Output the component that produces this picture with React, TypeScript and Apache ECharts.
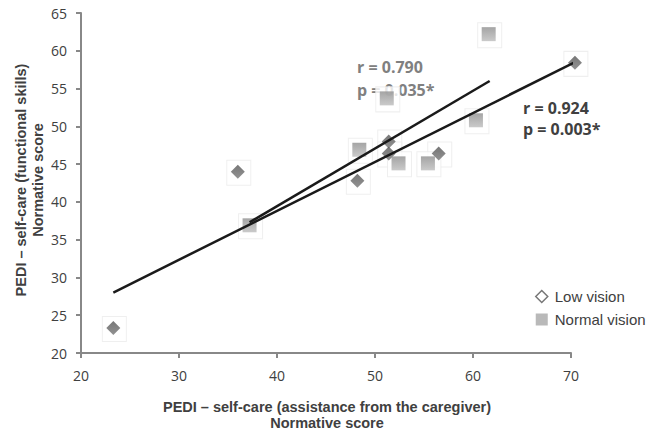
import React, { useEffect, useRef } from "react";
import * as echarts from "echarts";

// Data
const lowVisionX = [23.3, 36.0, 48.2, 51.4, 51.4, 56.5, 70.4];
const lowVisionY = [23.3, 44.0, 42.8, 48.0, 46.4, 46.4, 58.4];
const normalVisionX = [37.2, 48.4, 51.2, 52.4, 55.4, 60.3, 61.6];
const normalVisionY = [36.9, 46.9, 53.7, 45.1, 45.1, 50.8, 62.2];
const lowTrendX = [23.3, 70.4];
const lowTrendY = [28.0, 58.5];
const normalTrendX = [37.2, 61.7];
const normalTrendY = [37.3, 56.0];
const seriesNames = ["Low vision", "Normal vision"];
const statsLow = ["r = 0.924", "p = 0.003*"];
const statsNormal = ["r = 0.790", "p = 0.035*"];
const xTitle = ["PEDI – self-care (assistance from the caregiver)", "Normative score"];
const yTitle = ["PEDI – self-care (functional skills)", "Normative score"];

const pairs = (xs: number[], ys: number[]) => xs.map((x, i) => [x, ys[i]]);

export default function App() {
  const ref = useRef<HTMLDivElement>(null);
  useEffect(() => {
    document.body.style.margin = "0";
    const chart = echarts.init(ref.current!, null, { renderer: "svg" });
    const tickFont = { fontFamily: "Open Sans", fontSize: 14, color: "#404040" };
    const titleStyle = {
      fontFamily: "Liberation Sans, Arial, sans-serif",
      fontSize: 14.5,
      fontWeight: "bold" as const,
      fill: "#404040",
    };
    const statStyle = {
      fontFamily: "Open Sans",
      fontSize: 16,
      fontWeight: "bold" as const,
    };
    const diamondFill = new echarts.graphic.LinearGradient(0, 0, 0, 1, [
      { offset: 0, color: "#555555" },
      { offset: 1, color: "#777777" },
    ]);
    const squareFill = new echarts.graphic.LinearGradient(0, 0, 0, 1, [
      { offset: 0, color: "#8e8e8e" },
      { offset: 1, color: "#bdbdbd" },
    ]);
    const frame = {
      type: "scatter" as const,
      symbol: "rect",
      symbolSize: [24, 25],
      symbolOffset: [1, 1],
      silent: true,
      clip: false,
      z: 2,
      itemStyle: { color: "#ffffff", borderColor: "#ebebeb", borderWidth: 1 },
    };
    chart.setOption({
      animation: false,
      grid: { left: 81, right: 80, top: 13, bottom: 79 },
      xAxis: {
        type: "value",
        min: 20,
        max: 70,
        interval: 10,
        axisLine: { lineStyle: { color: "#888888", width: 2 } },
        axisTick: { show: true, length: 5, lineStyle: { color: "#888888", width: 2 } },
        axisLabel: { ...tickFont, margin: 15 },
        splitLine: { show: false },
      },
      yAxis: {
        type: "value",
        min: 20,
        max: 65,
        interval: 5,
        axisLine: { show: true, lineStyle: { color: "#888888", width: 2 } },
        axisTick: { show: true, length: 5, lineStyle: { color: "#888888", width: 2 } },
        axisLabel: { ...tickFont, margin: 14 },
        splitLine: { show: false },
      },
      legend: {
        orient: "vertical",
        left: 530,
        top: 284,
        itemWidth: 12,
        itemHeight: 12,
        itemGap: 8,
        textStyle: {
          fontFamily: "Liberation Sans, Arial, sans-serif",
          fontSize: 15,
          color: "#404040",
          lineHeight: 14,
          padding: [0, 0, 0, 2],
        },
        data: [
          {
            name: seriesNames[0],
            icon: "diamond",
            itemStyle: { color: "#ffffff", borderColor: "#555555", borderWidth: 1.5 },
          },
          { name: seriesNames[1], icon: "rect", itemStyle: { color: "#a8a8a8" } },
        ],
      },
      graphic: [
        { type: "text", left: 357, top: 59, z: 0, style: { ...statStyle, text: statsNormal[0], fill: "#808080" } },
        { type: "text", left: 357, top: 82, z: 0, style: { ...statStyle, text: statsNormal[1], fill: "#808080" } },
        { type: "text", left: 523, top: 100, z: 0, style: { ...statStyle, text: statsLow[0], fill: "#404040" } },
        { type: "text", left: 523, top: 121, z: 0, style: { ...statStyle, text: statsLow[1], fill: "#404040" } },
        {
          type: "text",
          x: 327,
          y: 407,
          style: { ...titleStyle, text: xTitle[0], align: "center", verticalAlign: "middle" },
        },
        {
          type: "text",
          x: 327,
          y: 423,
          style: { ...titleStyle, text: xTitle[1], align: "center", verticalAlign: "middle" },
        },
        {
          type: "text",
          x: 21,
          y: 180,
          rotation: Math.PI / 2,
          style: { ...titleStyle, text: yTitle[0], align: "center", verticalAlign: "middle" },
        },
        {
          type: "text",
          x: 38,
          y: 180,
          rotation: Math.PI / 2,
          style: { ...titleStyle, text: yTitle[1], align: "center", verticalAlign: "middle" },
        },
      ],
      series: [
        { ...frame, name: "frame-low", data: pairs(lowVisionX, lowVisionY) },
        { ...frame, name: "frame-normal", data: pairs(normalVisionX, normalVisionY) },
        {
          name: seriesNames[0],
          type: "scatter",
          symbol: "diamond",
          symbolSize: 14,
          clip: false,
          z: 3,
          itemStyle: { color: diamondFill },
          data: pairs(lowVisionX, lowVisionY),
        },
        {
          name: seriesNames[1],
          type: "scatter",
          symbol: "rect",
          symbolSize: 14,
          clip: false,
          z: 3,
          itemStyle: { color: squareFill },
          data: pairs(normalVisionX, normalVisionY),
        },
        {
          name: "trend-low",
          type: "line",
          showSymbol: false,
          clip: false,
          z: 4,
          lineStyle: { color: "#1a1a1a", width: 2.5 },
          data: pairs(lowTrendX, lowTrendY),
        },
        {
          name: "trend-normal",
          type: "line",
          showSymbol: false,
          clip: false,
          z: 4,
          lineStyle: { color: "#1a1a1a", width: 2.5 },
          data: pairs(normalTrendX, normalTrendY),
        },
      ],
    });
    return () => chart.dispose();
  }, []);
  return <div ref={ref} style={{ width: 651, height: 432 }} />;
}
